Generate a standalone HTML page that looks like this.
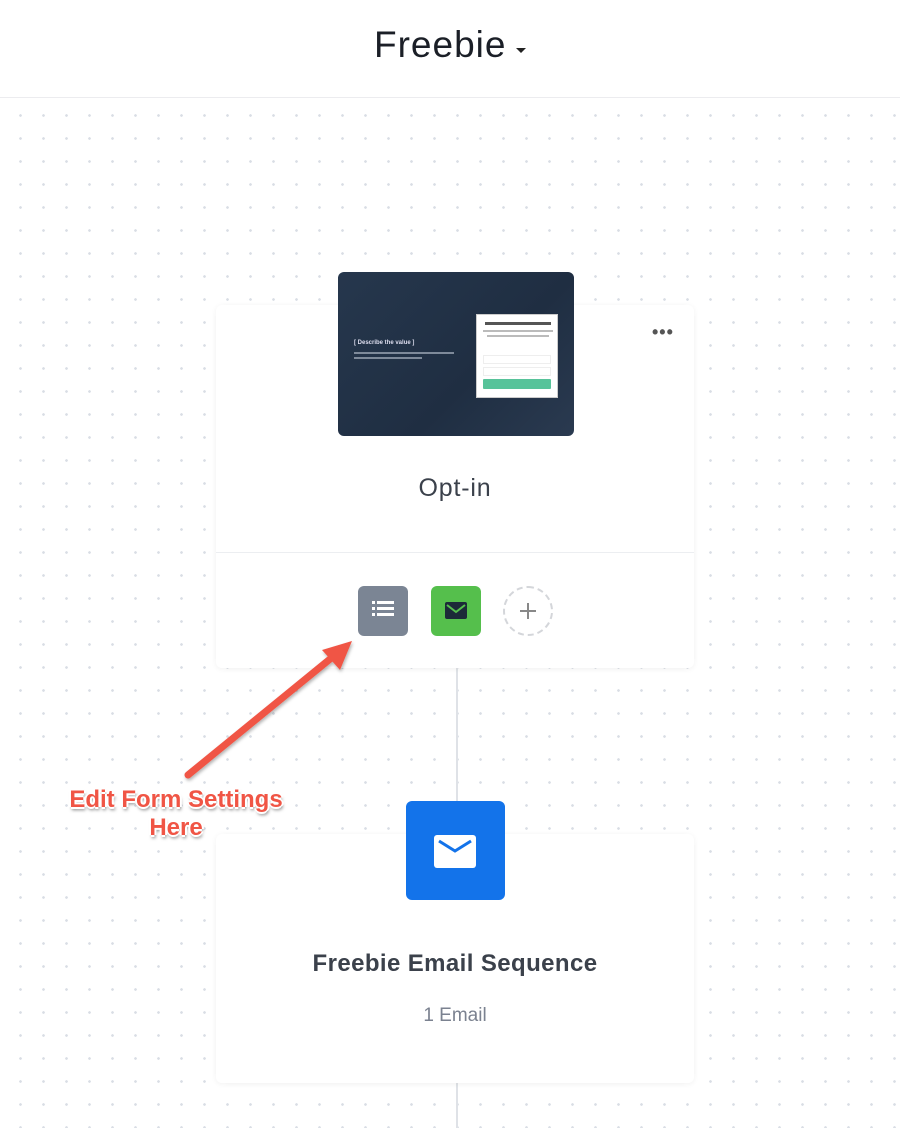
<!DOCTYPE html>
<html><head><style>
*{margin:0;padding:0;box-sizing:border-box}
body{width:900px;height:1128px;position:relative;overflow:hidden;background:#fff;font-family:"Liberation Sans",sans-serif}
.bg{position:absolute;left:0;top:99px;width:900px;height:1029px;background-color:#fff;background-image:radial-gradient(circle,#d9dde5 1.2px,transparent 1.5px);background-size:23px 23px;background-position:9px 5px}
.hdr{position:absolute;left:0;top:0;width:900px;height:98px;background:#fff;border-bottom:1px solid #ececef}
.abs{position:absolute}
.card{position:absolute;background:#fff;border-radius:6px;box-shadow:0 1px 6px rgba(0,0,0,0.06)}
</style></head><body>
<div class="bg"></div>
<div class="hdr"></div>
<div class="abs" style="left:374px;top:24px;font-size:37px;color:#1b1f27;letter-spacing:1px">Freebie</div>
<div class="abs" style="left:516px;top:48px;width:0;height:0;border-left:5px solid transparent;border-right:5px solid transparent;border-top:5px solid #222"></div>
<div class="abs" style="left:456px;top:668px;width:2px;height:460px;background:#dfe2e7"></div>
<div class="card" style="left:216px;top:305px;width:478px;height:363px"></div>
<div class="abs" style="left:216px;top:552px;width:478px;height:1px;background:#eceef1"></div>
<div class="abs" style="left:652px;top:322px;font-size:18px;color:#555;letter-spacing:1px;font-weight:bold">•••</div>
<div class="abs" style="left:338px;top:272px;width:236px;height:164px;border-radius:6px;background:linear-gradient(135deg,#26374d,#1f2e42 60%,#2a3a50);overflow:hidden">
 <div class="abs" style="left:16px;top:68px;font-size:6px;color:#dde;font-weight:bold">[ Describe the value ]</div>
 <div class="abs" style="left:16px;top:80px;width:100px;height:2px;background:#7e8a9a"></div>
 <div class="abs" style="left:16px;top:85px;width:68px;height:2px;background:#7e8a9a"></div>
 <div class="abs" style="left:138px;top:42px;width:82px;height:84px;background:#fff;border:1px solid #ccc">
  <div class="abs" style="left:8px;top:7px;width:66px;height:3px;background:#555"></div>
  <div class="abs" style="left:6px;top:15px;width:70px;height:2px;background:#bbb"></div>
  <div class="abs" style="left:10px;top:20px;width:62px;height:2px;background:#bbb"></div>
  <div class="abs" style="left:6px;top:40px;width:68px;height:9px;border:1px solid #eee"></div>
  <div class="abs" style="left:6px;top:52px;width:68px;height:9px;border:1px solid #eee"></div>
  <div class="abs" style="left:6px;top:64px;width:68px;height:10px;background:#57c39a;border-radius:1px"></div>
 </div>
</div>
<div class="abs" style="left:216px;top:474px;width:478px;text-align:center;font-size:25px;color:#3b414b;letter-spacing:0.8px">Opt-in</div>
<div class="abs" style="left:358px;top:586px;width:50px;height:50px;border-radius:6px;background:#7b8594">
 <div class="abs" style="left:14px;top:15px;width:3px;height:3px;background:#fff"></div><div class="abs" style="left:19px;top:15px;width:17px;height:3px;background:#fff"></div>
 <div class="abs" style="left:14px;top:21px;width:3px;height:3px;background:#fff"></div><div class="abs" style="left:19px;top:21px;width:17px;height:3px;background:#fff"></div>
 <div class="abs" style="left:14px;top:27px;width:3px;height:3px;background:#fff"></div><div class="abs" style="left:19px;top:27px;width:17px;height:3px;background:#fff"></div>
</div>
<div class="abs" style="left:431px;top:586px;width:50px;height:50px;border-radius:6px;background:#55bf4c">
 <svg width="50" height="50"><rect x="14" y="16" width="22" height="17" rx="2" fill="#1c2a38"/><path d="M16 19 L25 26 L34 19" stroke="#55bf4c" stroke-width="2" fill="none"/></svg>
</div>
<div class="abs" style="left:503px;top:586px;width:50px;height:50px;border-radius:50%;border:2px dashed #d4d6da">
 <div class="abs" style="left:15px;top:22px;width:16px;height:2px;background:#888"></div>
 <div class="abs" style="left:22px;top:15px;width:2px;height:16px;background:#888"></div>
</div>
<svg class="abs" style="left:0;top:0" width="900" height="1128">
 <defs><filter id="s"><feDropShadow dx="1" dy="2" stdDeviation="1.5" flood-color="#000" flood-opacity="0.3"/></filter></defs>
 <g filter="url(#s)">
 <line x1="188" y1="775" x2="335" y2="655" stroke="#f05545" stroke-width="7" stroke-linecap="round"/>
 <polygon points="352,641 322,650 340,670" fill="#f05545"/>
 </g>
</svg>
<div class="abs" style="left:46px;top:786px;width:260px;text-align:center;font-size:24px;line-height:28px;font-weight:bold;color:#f05545;text-shadow:-2px 0 #fff,2px 0 #fff,0 -2px #fff,0 2px #fff,1px 3px 3px rgba(0,0,0,0.5)">Edit Form Settings<br>Here</div>
<div class="card" style="left:216px;top:834px;width:478px;height:249px"></div>
<div class="abs" style="left:406px;top:801px;width:99px;height:99px;border-radius:6px;background:#1373ea">
 <svg width="99" height="99"><rect x="28" y="34" width="42" height="33" rx="3" fill="#fff"/><path d="M33 40 L49 50 L65 40" stroke="#1373ea" stroke-width="3" fill="none"/></svg>
</div>
<div class="abs" style="left:196px;top:950px;width:518px;text-align:center;font-size:24px;font-weight:bold;color:#3b414b;letter-spacing:0.4px">Freebie Email Sequence</div>
<div class="abs" style="left:216px;top:1005px;width:478px;text-align:center;font-size:19px;color:#7b8290">1 Email</div>
</body></html>
